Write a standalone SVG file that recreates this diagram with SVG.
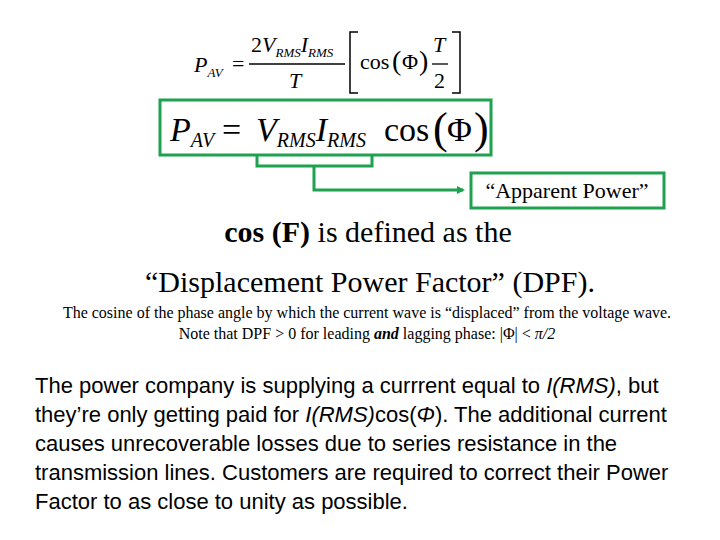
<svg xmlns="http://www.w3.org/2000/svg" width="720" height="540" viewBox="0 0 720 540">
<style>
.s{font-family:"Liberation Serif","Times New Roman",serif;fill:#000}
.p{font-family:"Liberation Sans",Arial,sans-serif;fill:#000;font-size:22px}
.it{font-style:italic}
.g{fill:none;stroke:#1fa24f;stroke-width:3}
</style>
<defs><marker id="ah" markerWidth="8" markerHeight="8" refX="6" refY="4" orient="auto" markerUnits="userSpaceOnUse"><path d="M0,0 L8,4 L0,8 z" fill="#1fa24f"/></marker></defs>
<rect width="720" height="540" fill="#fff"/>
<g id="eq1">
<text class="s it" x="194" y="72" font-size="22">P<tspan font-size="13" dy="5">AV</tspan></text>
<text class="s" x="232" y="71" font-size="22">=</text>
<text class="s" x="251" y="52" font-size="22">2<tspan class="it">V</tspan><tspan class="it" font-size="13" dy="5">RMS</tspan><tspan class="it" dy="-5">I</tspan><tspan class="it" font-size="13" dy="5">RMS</tspan></text>
<line x1="249" y1="64" x2="345" y2="64" stroke="#000" stroke-width="1.3"/>
<text class="s it" x="289" y="88" font-size="22">T</text>
<path d="M358,32 H350 V93 H358" fill="none" stroke="#000" stroke-width="1.5"/>
<text class="s" x="360" y="69" font-size="22">cos</text>
<text class="s" x="392" y="70" font-size="28">(</text>
<text class="s" x="402" y="69" font-size="22">Φ</text>
<text class="s" x="419" y="70" font-size="28">)</text>
<text class="s it" x="433" y="52" font-size="22">T</text>
<line x1="432" y1="64" x2="448" y2="64" stroke="#000" stroke-width="1.3"/>
<text class="s" x="434" y="88" font-size="22">2</text>
<path d="M452,32 H460 V93 H452" fill="none" stroke="#000" stroke-width="1.5"/>
</g>
<g id="eq2">
<rect x="160" y="100" width="331" height="55" class="g"/>
<text class="s it" x="170" y="141" font-size="34">P<tspan font-size="20" dy="6">AV</tspan></text>
<text class="s" x="222" y="141" font-size="34">=</text>
<text class="s it" x="256" y="141" font-size="34">V<tspan font-size="20" dy="6">RMS</tspan><tspan dy="-6">I</tspan><tspan font-size="20" dy="6">RMS</tspan></text>
<text class="s" x="384" y="141" font-size="34">cos</text>
<text class="s" x="433" y="143" font-size="44">(</text>
<text class="s" x="447" y="141" font-size="34">Φ</text>
<text class="s" x="474" y="143" font-size="44">)</text>
</g>
<g id="apparent">
<rect x="471" y="173" width="193" height="35" class="g"/>
<text class="s" x="567" y="198" font-size="22" text-anchor="middle">“Apparent Power”</text>
</g>
<g id="connectors">
<path d="M257,155 V166 H372 V155" class="g"/>
<path d="M314,166 V190 H463" class="g" marker-end="url(#ah)"/>
</g>
<g id="text">
<text class="s" x="368" y="242" font-size="30" text-anchor="middle"><tspan font-weight="bold">cos (F)</tspan>  is defined as the</text>
<text class="s" x="370" y="292" font-size="30" text-anchor="middle">“Displacement Power Factor” (DPF).</text>
<text class="s" x="367" y="318" font-size="16" text-anchor="middle">The cosine of the phase angle by which the current wave is “displaced” from the voltage wave.</text>
<text class="s" x="367" y="339" font-size="16" text-anchor="middle">Note that DPF &gt; 0 for leading <tspan font-weight="bold" font-style="italic">and</tspan> lagging phase: |Φ| &lt; <tspan font-style="italic">π/2</tspan></text>
<text class="p" x="35" y="393">The power company is supplying a currrent equal to <tspan class="it">I(RMS)</tspan>, but</text>
<text class="p" x="35" y="422">they’re only getting paid for <tspan class="it">I(RMS)</tspan>cos(<tspan class="it">Φ</tspan>).  The additional current</text>
<text class="p" x="35" y="451">causes unrecoverable losses due to series resistance in the</text>
<text class="p" x="35" y="480">transmission lines.  Customers are required to correct their Power</text>
<text class="p" x="35" y="509">Factor to as close to unity as possible.</text>
</g>
</svg>
